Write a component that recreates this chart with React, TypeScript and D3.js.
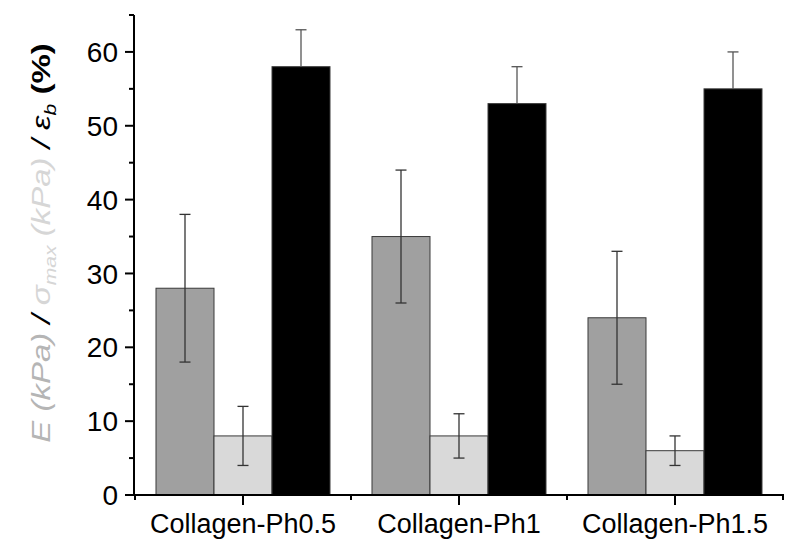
import React from "react";
import * as d3 from "d3";

const categories = ["Collagen-Ph0.5", "Collagen-Ph1", "Collagen-Ph1.5"];
const series = ["E", "sigma", "eps"];
const eValues = [28, 35, 24];
const eErrors = [10, 9, 9];
const sigmaValues = [8, 8, 6];
const sigmaErrors = [4, 3, 2];
const epsValues = [58, 53, 55];
const epsErrors = [5, 5, 5];
const yMajorTicks = [0, 10, 20, 30, 40, 50, 60];
const yMinorTicks = [5, 15, 25, 35, 45, 55, 65];
const seriesColors = ["#a0a0a0", "#d9d9d9", "#000000"];

const W = 800;
const H = 553;

export default function App() {
  const x = d3.scaleBand<string>().domain(categories).range([135, 783]).paddingInner(0).paddingOuter(0);
  const xi = d3.scaleBand<string>().domain(series).range([0, x.bandwidth()]).paddingInner(0).paddingOuter(0.362);
  const y = d3.scaleLinear().domain([0, 65]).range([495, 15]);

  const vals = [eValues, sigmaValues, epsValues];
  const errs = [eErrors, sigmaErrors, epsErrors];
  const font = "'Liberation Sans', Arial, sans-serif";
  const boundaries = [...categories.map((c) => x(c)!), 783];

  return (
    <svg width={W} height={H} style={{ position: "absolute", left: 0, top: 0 }} fontFamily={font}>
      <rect width={W} height={H} fill="#fff" />
      {categories.map((c, ci) =>
        series.map((s, si) => {
          const v = vals[si][ci];
          const bx = x(c)! + xi(s)!;
          return (
            <rect
              key={c + s}
              x={bx}
              y={y(v)}
              width={xi.bandwidth()}
              height={y(0) - y(v)}
              fill={seriesColors[si]}
              stroke="#3a3a3a"
              strokeWidth={1}
            />
          );
        })
      )}
      {categories.map((c, ci) =>
        series.map((s, si) => {
          const v = vals[si][ci];
          const e = errs[si][ci];
          const cx = x(c)! + xi(s)! + xi.bandwidth() / 2;
          const col = si === 2 ? "#555" : "#333";
          const lowVisible = si !== 2;
          return (
            <g key={"e" + c + s} stroke={col} strokeWidth={1.3}>
              <line x1={cx} x2={cx} y1={lowVisible ? y(v - e) : y(v)} y2={y(v + e)} />
              <line x1={cx - 5.5} x2={cx + 5.5} y1={y(v + e)} y2={y(v + e)} />
              {lowVisible && <line x1={cx - 5.5} x2={cx + 5.5} y1={y(v - e)} y2={y(v - e)} />}
            </g>
          );
        })
      )}
      {/* axes */}
      <line x1={134} x2={134} y1={y(65)} y2={y(0) + 1} stroke="#000" strokeWidth={2} />
      <line x1={133} x2={784} y1={y(0)} y2={y(0)} stroke="#000" strokeWidth={2} />
      {yMajorTicks.map((t) => (
        <g key={"ym" + t}>
          <line x1={125} x2={134} y1={y(t)} y2={y(t)} stroke="#000" strokeWidth={2} />
          <text x={118} y={y(t)} dy="0.36em" textAnchor="end" fontSize={28} fill="#000">
            {t}
          </text>
        </g>
      ))}
      {yMinorTicks.map((t) => (
        <line key={"yn" + t} x1={129} x2={134} y1={y(t)} y2={y(t)} stroke="#000" strokeWidth={2} />
      ))}
      {categories.map((c) => (
        <g key={"xm" + c}>
          <line
            x1={x(c)! + x.bandwidth() / 2}
            x2={x(c)! + x.bandwidth() / 2}
            y1={y(0)}
            y2={y(0) + 10}
            stroke="#000"
            strokeWidth={2}
          />
          <text x={x(c)! + x.bandwidth() / 2} y={533} textAnchor="middle" fontSize={27} fill="#000">
            {c}
          </text>
        </g>
      ))}
      {boundaries.map((b, i) => (
        <line key={"xb" + i} x1={b} x2={b} y1={y(0)} y2={y(0) + 5} stroke="#000" strokeWidth={2} />
      ))}
      {/* y label */}
      <text transform="translate(50,243) rotate(-90) scale(1.32,1)" textAnchor="middle" fontSize={25}>
        <tspan fill="#b5b5b5" fontStyle="italic">E (kPa) </tspan>
        <tspan fill="#000" fontStyle="italic">/ </tspan>
        <tspan fill="#d6d6d6" fontStyle="italic">σ</tspan>
        <tspan fill="#d6d6d6" fontStyle="italic" fontSize={16} dy={6}>max</tspan>
        <tspan fill="#d6d6d6" fontStyle="italic" dy={-6}> (kPa) </tspan>
        <tspan fill="#000" fontStyle="italic">/ ε</tspan>
        <tspan fill="#000" fontStyle="italic" fontSize={16} dy={6}>b</tspan>
        <tspan fill="#000" fontWeight="bold" dy={-6}> (%)</tspan>
      </text>
    </svg>
  );
}
